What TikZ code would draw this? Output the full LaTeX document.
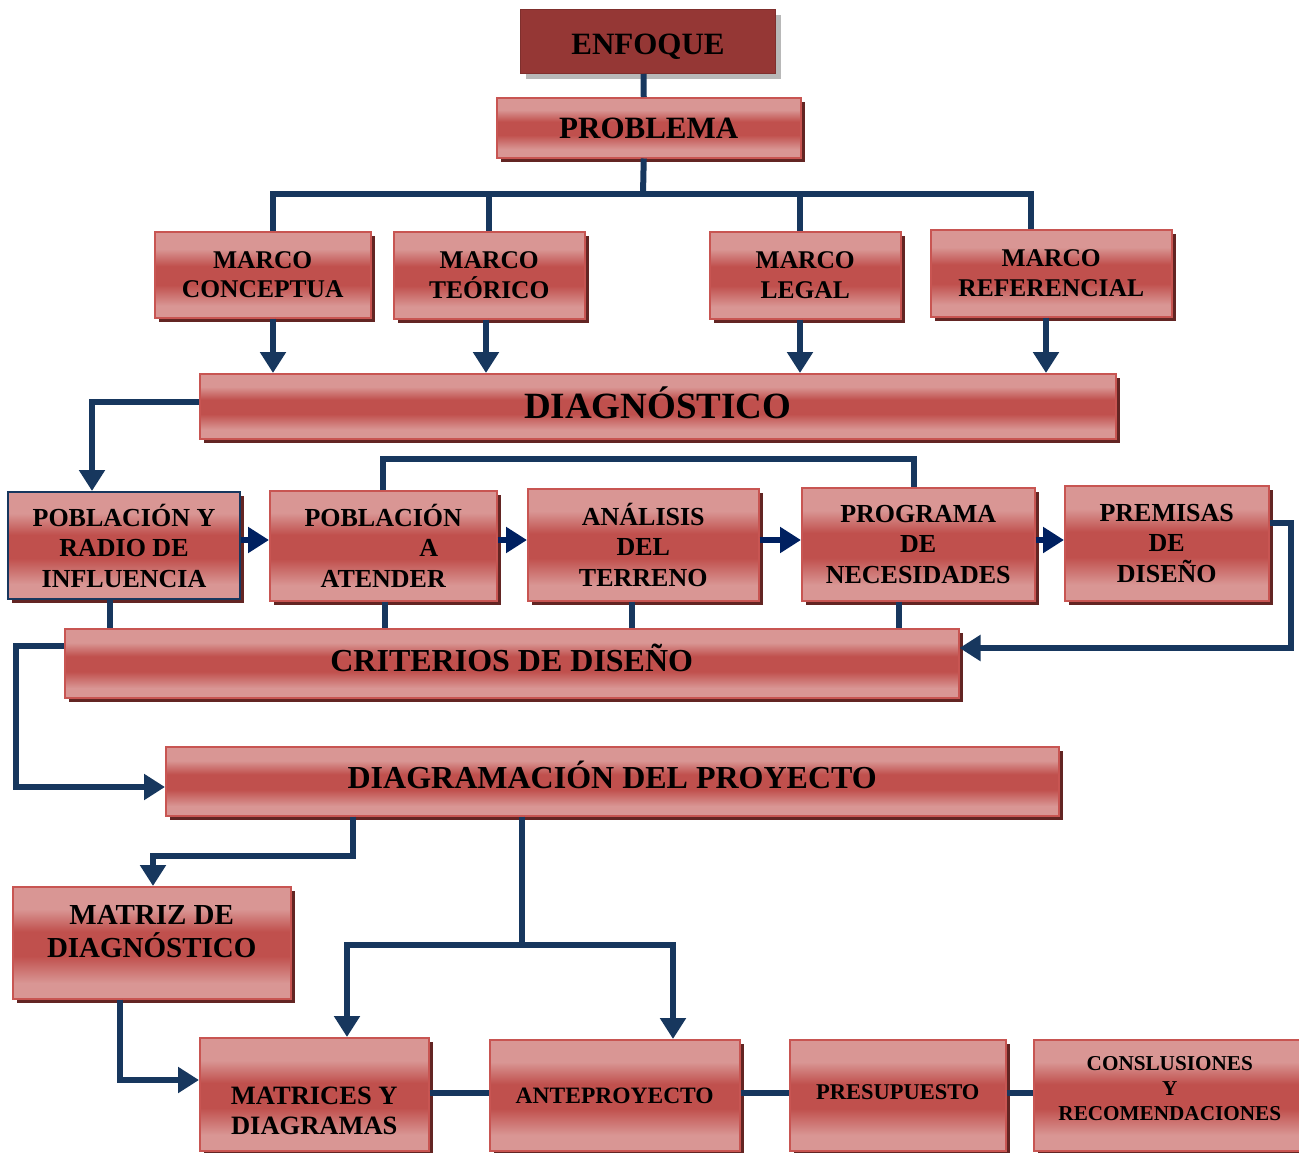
\documentclass[tikz,border=0pt]{standalone}
\usepackage{fontspec}
\setmainfont{Liberation Serif}
\usetikzlibrary{arrows.meta,shadows}
\definecolor{linecol}{HTML}{17375E}
\definecolor{rowcol}{HTML}{002060}
\definecolor{boxlight}{HTML}{D99694}
\definecolor{boxred}{HTML}{C0504D}
\definecolor{boxborder}{HTML}{C85552}
\definecolor{shadowcol}{HTML}{632523}
\definecolor{enfcol}{HTML}{953735}
\pgfdeclareverticalshading{boxshade}{100bp}{color(0bp)=(boxlight); color(32bp)=(boxlight); color(44bp)=(boxred); color(55bp)=(boxred); color(65bp)=(boxlight); color(100bp)=(boxlight)}
\begin{document}
\begin{tikzpicture}[x=1pt,y=-1pt,
  basebox/.style={inner sep=0pt, anchor=north west, align=center},
  box/.style={basebox, shade, shading=boxshade, draw=boxborder, line width=1.5pt,
    general shadow={fill=shadowcol, shadow xshift=4pt, shadow yshift=-4pt},
    font=\bfseries\fontsize{26}{30.5}\selectfont},
  oneline/.style={text height=#1, text depth=0pt},
  enfbox/.style={basebox, fill=enfcol, draw=enfcol!85!black, line width=1pt,
    general shadow={fill=black!28, shadow xshift=5pt, shadow yshift=-5pt}},
  conn/.style={draw=linecol, line width=6pt, line join=miter},
  arr/.style={conn, -{Triangle[width=25pt,length=21pt]}},
  rowarr/.style={draw=rowcol, line width=6pt, -{Triangle[width=25pt,length=21pt]}},
  lbl/.style={align=center, inner sep=0pt}
]
\useasboundingbox (0,0) rectangle (1299,1152);

% boxes
\node[enfbox, minimum width=255pt, minimum height=64pt,
  label={[lbl, oneline=20.5pt, yshift=-3pt, font=\bfseries\fontsize{31}{36}\selectfont]center:ENFOQUE}] (enf) at (520,9) {};
\node[box, oneline=20.5pt, minimum width=304pt, minimum height=60pt, font=\bfseries\fontsize{31}{36}\selectfont] (prob) at (496,97) {PROBLEMA};

\node[box, minimum width=216pt, minimum height=86pt, font=\bfseries\fontsize{25.5}{29.5}\selectfont] (mc) at (154,231) {MARCO\\CONCEPTUA};
\node[box, minimum width=191pt, minimum height=87pt, font=\bfseries\fontsize{25.5}{30}\selectfont] (mt) at (393,231) {MARCO\\TEÓRICO};
\node[box, minimum width=191pt, minimum height=87pt, font=\bfseries\fontsize{25.5}{30}\selectfont] (ml) at (709,231) {MARCO\\LEGAL};
\node[box, minimum width=241pt, minimum height=87pt, font=\bfseries\fontsize{25.5}{30}\selectfont] (mr) at (930,229) {MARCO\\REFERENCIAL};

\node[box, oneline=24.4pt, minimum width=916pt, minimum height=65pt, font=\bfseries\fontsize{37}{42}\selectfont] (diag) at (199,373) {DIAGNÓSTICO};

\node[box, draw=linecol, line width=2pt, minimum width=232pt, minimum height=107pt] (pr) at (7,491) {POBLACIÓN Y\\RADIO DE\\INFLUENCIA};
\node[box, minimum width=227pt, minimum height=110pt] (pa) at (269,490) {POBLACIÓN\\\hspace*{91pt}A\\ATENDER};
\node[box, minimum width=231pt, minimum height=112pt] (an) at (527,488) {ANÁLISIS\\DEL\\TERRENO};
\node[box, minimum width=233pt, minimum height=113pt] (pn) at (801,487) {PROGRAMA\\DE\\NECESIDADES};
\node[box, minimum width=204pt, minimum height=115pt] (pd) at (1064,485) {PREMISAS\\DE\\DISEÑO};

\node[box, minimum width=894pt, minimum height=69pt,
  label={[lbl, oneline=21pt, yshift=2.5pt, font=\bfseries\fontsize{32}{36}\selectfont]center:CRITERIOS DE DISEÑO}] (crit) at (64,628) {};
\node[box, minimum width=893pt, minimum height=69pt,
  label={[lbl, oneline=21pt, yshift=3pt, font=\bfseries\fontsize{32}{36}\selectfont]center:DIAGRAMACIÓN DEL PROYECTO}] (dp) at (165,746) {};

\node[box, minimum width=278pt, minimum height=112pt,
  label={[lbl, yshift=11pt, font=\bfseries\fontsize{29}{33}\selectfont]center:{MATRIZ DE\\DIAGNÓSTICO}}] (mz) at (12,886) {};
\node[box, minimum width=229pt, minimum height=113pt,
  label={[lbl, yshift=-17pt, font=\bfseries\fontsize{26.5}{30}\selectfont]center:{MATRICES Y\\DIAGRAMAS}}] (md) at (199,1037) {};
\node[box, oneline=15.5pt, minimum width=250pt, minimum height=111pt, font=\bfseries\fontsize{23.5}{28}\selectfont] (ap) at (489,1039) {ANTEPROYECTO};
\node[box, minimum width=216pt, minimum height=111pt,
  label={[lbl, oneline=14.8pt, yshift=3pt, font=\bfseries\fontsize{22.5}{27}\selectfont]center:PRESUPUESTO}] (ps) at (789,1039) {};
\node[box, minimum width=272pt, minimum height=111pt,
  label={[lbl, yshift=7pt, font=\bfseries\fontsize{21.2}{25}\selectfont]center:{CONSLUSIONES\\Y\\RECOMENDACIONES}}] (cr) at (1033,1039) {};

% helper coordinates
\coordinate (bc) at (643,194);
\coordinate (bL) at (273,194);
\coordinate (b2) at (489,194);
\coordinate (b3) at (800,194);
\coordinate (bR) at (1031,194);
\coordinate (d2) at (486,0);
\coordinate (d4) at (1046,0);
\coordinate (e1) at (92,402);
\coordinate (ry) at (0,540);
\coordinate (tb1) at (383,459);
\coordinate (tb2) at (914,459);
\coordinate (c1) at (110,0);
\coordinate (c2) at (385,0);
\coordinate (c3) at (632,0);
\coordinate (c4) at (899,0);
\coordinate (r1) at (1291,523);
\coordinate (r2) at (1291,648);
\coordinate (l1) at (16,646);
\coordinate (l2) at (16,787);
\coordinate (m1) at (353,856);
\coordinate (m2) at (153,856);
\coordinate (t0) at (522,945);
\coordinate (t1) at (347,945);
\coordinate (t2) at (673,945);
\coordinate (q) at (120,1080);
\coordinate (h) at (0,1093);

% connectors
\draw[conn] ([xshift=-4.5pt]enf.south) -- ([xshift=-5pt]prob.north);
\draw[conn] ([xshift=-5pt]prob.south) -- (bc);
\draw[conn] (bL |- mc.north) -- (bL) -- (bR) -- (bR |- mr.north);
\draw[conn] (b2) -- (b2 |- mt.north);
\draw[conn] (b3) -- (b3 |- ml.north);

\draw[arr] (mc.south -| bL) -- (diag.north -| bL);
\draw[arr] (mt.south -| d2) -- (diag.north -| d2);
\draw[arr] (ml.south -| b3) -- (diag.north -| b3);
\draw[arr] (mr.south -| d4) -- (diag.north -| d4);

\draw[arr] (diag.west |- e1) -- (e1) -- (e1 |- pr.north);

\draw[rowarr] (pr.east |- ry) -- (pa.west |- ry);
\draw[rowarr] (pa.east |- ry) -- (an.west |- ry);
\draw[rowarr] (an.east |- ry) -- (pn.west |- ry);
\draw[rowarr] (pn.east |- ry) -- (pd.west |- ry);

\draw[conn] (tb1 |- pa.north) -- (tb1) -- (tb2) -- (tb2 |- pn.north);

\draw[conn] (pr.south -| c1) -- (crit.north -| c1);
\draw[conn] (pa.south -| c2) -- (crit.north -| c2);
\draw[conn] (an.south -| c3) -- (crit.north -| c3);
\draw[conn] (pn.south -| c4) -- (crit.north -| c4);

\draw[arr] (pd.east |- r1) -- (r1) -- (r2) -- (crit.east |- r2);
\draw[arr] (crit.west |- l1) -- (l1) -- (l2) -- (dp.west |- l2);

\draw[arr] (dp.south -| m1) -- (m1) -- (m2) -- (mz.north -| m2);
\draw[conn] (dp.south -| t0) -- (t0);
\draw[arr] (t0) -- (t1) -- (md.north -| t1);
\draw[arr] (t0) -- (t2) -- (ap.north -| t2);
\draw[arr] (mz.south -| q) -- (q) -- (md.west |- q);

\draw[conn] (md.east |- h) -- (ap.west |- h);
\draw[conn] (ap.east |- h) -- (ps.west |- h);
\draw[conn] (ps.east |- h) -- (cr.west |- h);
\end{tikzpicture}
\end{document}
